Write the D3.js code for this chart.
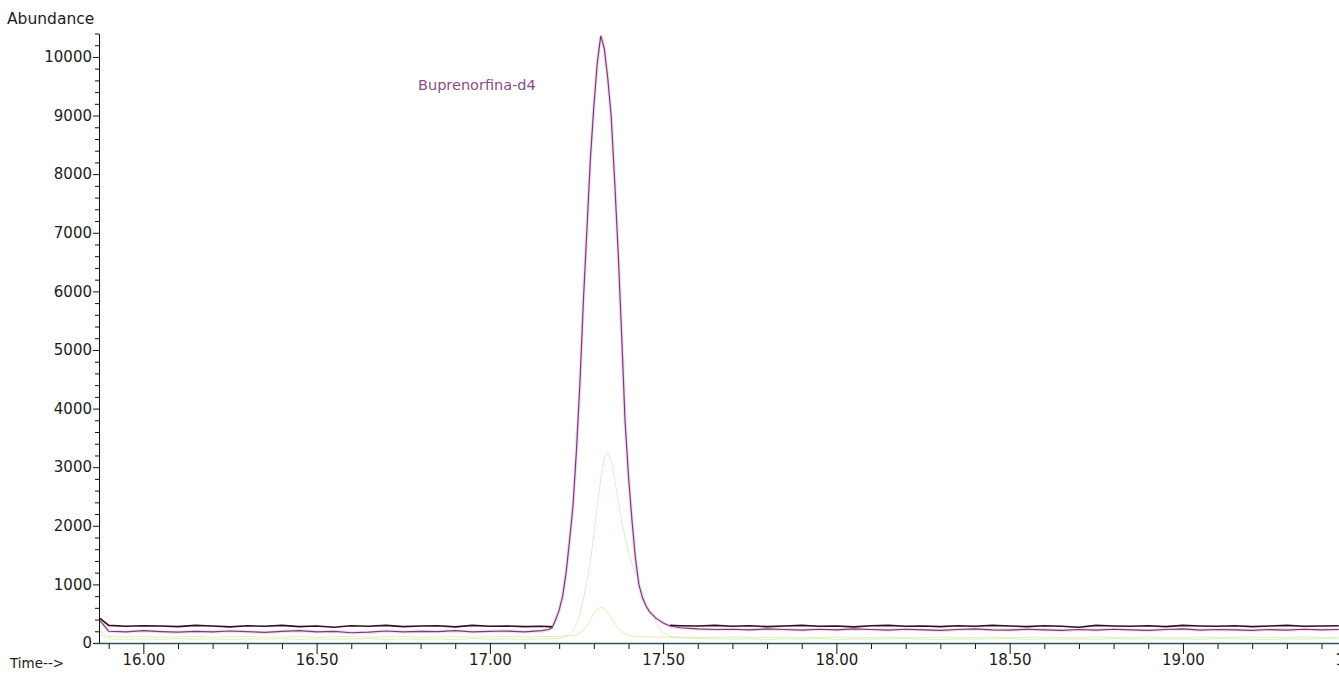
<!DOCTYPE html>
<html>
<head>
<meta charset="utf-8">
<script src="https://cdn.jsdelivr.net/npm/d3@7"></script>
<style>
  body { margin: 0; background: #fff; }
  svg { display: block; font-family: "DejaVu Sans", sans-serif; }
</style>
</head>
<body>
<div id="chart"></div>
<script>
// scan times (min)
const scanTimes = [
  15.875, 15.90, 15.95, 16.00, 16.05, 16.10, 16.15, 16.20, 16.25, 16.30, 16.35, 16.40, 16.45, 16.50,
  16.55, 16.60, 16.65, 16.70, 16.75, 16.80, 16.85, 16.90, 16.95, 17.00, 17.05, 17.10, 17.15,
  17.17, 17.18, 17.19, 17.20, 17.21, 17.22, 17.23, 17.24, 17.25, 17.26, 17.27, 17.28, 17.29, 17.30,
  17.31, 17.32, 17.33, 17.34, 17.35, 17.36, 17.37, 17.38, 17.39, 17.40, 17.41, 17.42, 17.43, 17.44,
  17.45, 17.46, 17.48, 17.50, 17.52,
  17.55, 17.60, 17.65, 17.70, 17.75, 17.80, 17.85, 17.90, 17.95, 18.00, 18.05, 18.10, 18.15, 18.20,
  18.25, 18.30, 18.35, 18.40, 18.45, 18.50, 18.55, 18.60, 18.65, 18.70, 18.75, 18.80, 18.85, 18.90,
  18.95, 19.00, 19.05, 19.10, 19.15, 19.20, 19.25, 19.30, 19.35, 19.40, 19.45
];

// Buprenorfina-d4 (purple)
const buprenorfinaD4 = [
  380, 200, 190, 210, 195, 185, 200, 190, 205, 195, 180, 200, 210, 190,
  200, 175, 185, 205, 190, 200, 195, 210, 190, 200, 205, 190, 210,
  230, 265, 400, 560, 800, 1200, 1750, 2350, 3300, 4450, 5850, 7050, 8250, 9150,
  9900, 10360, 10150, 9650, 9000, 7900, 6700, 5300, 3800, 2850, 2100, 1450, 1000, 780,
  640, 540, 420, 340, 290,
  260, 240, 230, 235, 225, 240, 230, 220, 235, 225, 240, 230, 220, 235,
  225, 215, 230, 240, 225, 220, 235, 225, 215, 230, 220, 235, 225, 215,
  230, 240, 220, 230, 225, 215, 230, 220, 235, 225, 230
];

// second trace (dark), hidden under the peak
const darkTrace = [
  420, 300, 285, 295, 290, 280, 300, 290, 275, 295, 285, 300, 280, 290,
  270, 295, 285, 300, 280, 290, 295, 275, 300, 285, 290, 280, 285,
  280, 275, null, null, null, null, null, null, null, null, null, null, null, null,
  null, null, null, null, null, null, null, null, null, null, null, null, null, null,
  null, null, null, null, 300,
  295, 290, 300, 285, 295, 280, 290, 300, 285, 290, 275, 295, 300, 285,
  290, 280, 295, 285, 300, 290, 280, 295, 285, 270, 300, 290, 285, 295,
  280, 300, 290, 285, 295, 280, 290, 300, 285, 290, 295
];

// green trace
const greenTrace = [
  150, 70, 65, 70, 60, 75, 65, 70, 60, 70, 65, 75, 60, 70,
  65, 70, 75, 60, 70, 65, 70, 60, 75, 65, 70, 65, 70,
  70, 70, 75, 80, 90, 110, 150, 220, 330, 500, 750, 1050, 1400, 1850,
  2350, 2800, 3150, 3250, 3100, 2800, 2450, 2100, 1800, 1550, 1350, 1180, 1020, 860,
  700, 560, 340, 180, 110,
  90, 75, 70, 65, 70, 60, 70, 65, 75, 60, 70, 65, 70, 75,
  65, 60, 70, 65, 70, 75, 60, 70, 65, 70, 60, 75, 65, 70,
  65, 70, 60, 75, 70, 65, 60, 70, 65, 75, 70
];

// yellow trace
const yellowTrace = [
  200, 110, 105, 110, 100, 105, 110, 100, 105, 110, 100, 105, 110, 100,
  105, 110, 100, 105, 110, 100, 105, 110, 100, 105, 110, 105, 110,
  110, 110, 110, 115, 115, 120, 125, 130, 140, 170, 220, 300, 400, 500,
  580, 610, 590, 520, 430, 340, 260, 200, 160, 130, 120, 115, 110, 110,
  105, 105, 100, 100, 100,
  100, 95, 95, 100, 95, 95, 100, 95, 95, 100, 95, 95, 100, 95,
  95, 100, 95, 95, 100, 95, 95, 100, 95, 95, 100, 95, 95, 100,
  95, 95, 100, 95, 95, 100, 95, 95, 100, 95, 95
];

const yMajorTicks = [0, 1000, 2000, 3000, 4000, 5000, 6000, 7000, 8000, 9000, 10000];
const xMajorTicks = [16.0, 16.5, 17.0, 17.5, 18.0, 18.5, 19.0, 19.5];
const peakLabel = "Buprenorfina-d4";

const width = 1339, height = 675;

const svg = d3.select("#chart").append("svg")
    .attr("width", width)
    .attr("height", height);

const x = d3.scaleLinear().domain([15.872, 19.6]).range([99, 1390.8]);
const y = d3.scaleLinear().domain([0, 10400]).range([643, 33.5]);

// traces
const line = values => d3.line()
    .defined((d, i) => values[i] != null)
    .x((d, i) => x(scanTimes[i]))
    .y((d, i) => y(values[i]))(values);

svg.append("path").attr("d", line(yellowTrace))
    .attr("fill", "none").attr("stroke", "#e2e28a").attr("stroke-width", 1).attr("opacity", 0.7);
svg.append("path").attr("d", line(greenTrace))
    .attr("fill", "none").attr("stroke", "#9ad67f").attr("stroke-width", 1).attr("opacity", 0.4);
svg.append("path").attr("d", line(buprenorfinaD4))
    .attr("fill", "none").attr("stroke", "#f7dcf5").attr("stroke-width", 3.5);
svg.append("path").attr("d", line(darkTrace))
    .attr("fill", "none").attr("stroke", "#2a1320").attr("stroke-width", 1.6);
svg.append("path").attr("d", line(buprenorfinaD4))
    .attr("fill", "none").attr("stroke", "#74406f").attr("stroke-width", 1.2);

const tickFont = g => g.selectAll("text")
    .attr("font-size", 15).attr("fill", "#1c1c1c")
    .attr("font-family", "'DejaVu Sans', sans-serif");

// y axis
const yMinor = d3.range(0, 10401, 200).filter(v => v % 1000 !== 0);
svg.append("g")
    .attr("transform", "translate(99,0)")
    .call(d3.axisLeft(y).tickValues(yMinor).tickSize(4).tickSizeOuter(0).tickFormat(""))
    .call(g => g.select(".domain").remove())
    .call(g => g.selectAll("line").attr("stroke", "#111"));

svg.append("g")
    .attr("transform", "translate(99,0)")
    .call(d3.axisLeft(y).tickValues(yMajorTicks).tickSize(6).tickSizeOuter(0)
        .tickPadding(1).tickFormat(d3.format("d")))
    .call(g => g.select(".domain").attr("stroke", "#111"))
    .call(g => g.selectAll("line").attr("stroke", "#111"))
    .call(tickFont);

// x axis
const xMinor = d3.range(159, 196).map(v => v / 10).filter(v => Math.round(v * 10) % 5 !== 0);
svg.append("g")
    .attr("transform", "translate(0,643)")
    .call(d3.axisBottom(x).tickValues(xMinor).tickSize(6).tickSizeOuter(0).tickFormat(""))
    .call(g => g.select(".domain").remove())
    .call(g => g.selectAll("line").attr("stroke", "#111"));

svg.append("g")
    .attr("transform", "translate(0,643)")
    .call(d3.axisBottom(x).tickValues(xMajorTicks).tickSize(11).tickSizeOuter(0)
        .tickPadding(0).tickFormat(d3.format(".2f")))
    .call(g => g.select(".domain").attr("stroke", "#34505c").attr("stroke-width", 1.3)
        .attr("d", "M95,0.5H1339"))
    .call(g => g.selectAll("line").attr("stroke", "#111"))
    .call(tickFont);

// axis titles
svg.append("text")
    .attr("x", 7).attr("y", 24)
    .attr("font-size", 15.5).attr("fill", "#1c1c1c")
    .text("Abundance");

svg.append("text")
    .attr("x", 10).attr("y", 668)
    .attr("font-size", 13.5).attr("fill", "#1c1c1c")
    .text("Time-->");

// peak label
svg.append("text")
    .attr("x", 418).attr("y", 90)
    .attr("font-size", 14.5).attr("fill", "#8a4d8a")
    .text(peakLabel);
</script>
</body>
</html>
